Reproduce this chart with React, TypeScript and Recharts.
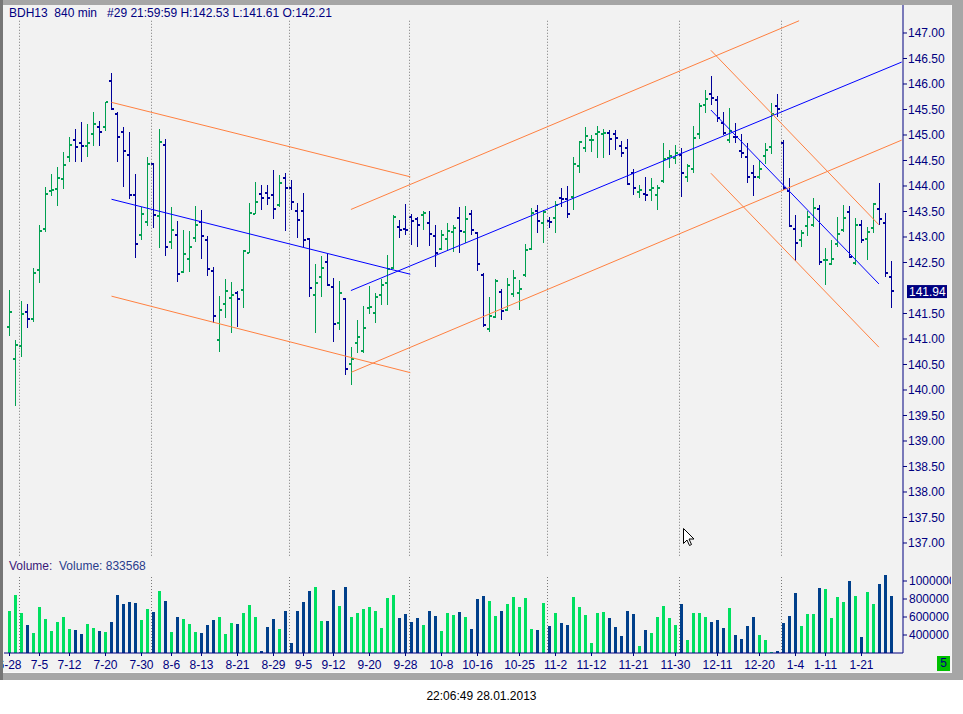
import React from 'react';
import { ComposedChart, Bar, XAxis, YAxis, ReferenceLine } from 'recharts';

const FONT = '"Liberation Sans", Arial, sans-serif';
const NAVY = '#000080';
const UP = '#00a050';
const DOWN = '#000099';
const VOL_UP = '#00e060';
const VOL_DOWN = '#003f8a';
const ORANGE = '#ff8040';
const BLUE = '#0000ff';
const GRID = '#7a7a7a';

// daily bars BDH13, 6-28 .. 1-28
const HIGH = [
  141.96, 140.98, 141.75, 141.69, 142.39, 143.24, 143.99, 144.24, 144.38, 144.67,
  144.97, 145.11, 145.25, 145.22, 145.45, 145.28, 145.65, 146.21, 145.46, 145.16,
  145.06, 144.24, 143.59, 144.56, 144.46, 145.11, 144.92, 143.59, 143.31, 143.14,
  143.12, 143.61, 143.53, 143.02, 142.42, 141.84, 142.18, 142.12, 141.95, 142.75,
  143.66, 144.08, 144.02, 144.02, 144.31, 144.22, 144.25, 144.12, 143.66, 143.86,
  142.99, 142.47, 142.63, 142.67, 142.19, 142.14, 141.80, 140.85, 141.37, 141.65,
  142.04, 141.90, 142.17, 142.65, 143.43, 143.33, 143.65, 143.45, 143.39, 143.50,
  143.50, 143.24, 143.14, 143.27, 143.24, 143.58, 143.61, 143.53, 143.10, 142.29,
  141.83, 142.17, 141.99, 142.19, 142.35, 142.16, 142.86, 143.56, 143.63, 143.53,
  143.40, 143.71, 143.97, 144.00, 144.57, 144.88, 145.15, 145.00, 145.18, 145.11,
  145.10, 145.10, 144.89, 144.92, 144.33, 144.02, 144.17, 144.15, 144.02, 144.84,
  144.71, 144.80, 144.74, 144.44, 145.18, 145.62, 145.88, 146.16, 145.76, 145.46,
  145.52, 145.23, 145.02, 144.84, 144.41, 144.50, 144.84, 145.62, 145.80, 144.90,
  144.15, 143.43, 143.14, 143.50, 143.77, 143.63, 142.78, 142.94, 143.40, 143.63,
  143.61, 143.37, 143.33, 143.20, 143.66, 144.05, 143.48, 142.53,
];

const LOW = [
  141.06, 139.69, 140.65, 141.22, 141.34, 142.10, 143.10, 143.80, 143.61, 143.95,
  144.48, 144.48, 144.48, 144.57, 144.79, 144.79, 145.08, 145.49, 144.48, 143.99,
  143.74, 142.59, 142.94, 143.22, 143.18, 142.79, 142.63, 142.77, 142.12, 142.29,
  142.31, 142.91, 142.57, 142.24, 141.31, 140.75, 141.42, 141.11, 141.24, 141.60,
  142.68, 143.45, 143.52, 143.63, 143.35, 143.59, 143.12, 143.53, 142.99, 142.80,
  141.83, 141.12, 141.83, 142.03, 140.95, 141.18, 140.29, 140.10, 140.72, 140.73,
  141.49, 141.31, 141.66, 141.66, 142.37, 142.99, 143.04, 142.84, 142.81, 143.14,
  142.82, 142.42, 142.75, 142.75, 142.71, 142.68, 142.88, 143.04, 142.34, 141.24,
  141.14, 141.41, 141.37, 141.54, 141.83, 141.57, 142.22, 142.75, 143.07, 142.89,
  143.17, 143.08, 143.59, 143.37, 143.53, 144.26, 144.67, 144.67, 144.54, 144.54,
  144.61, 144.71, 144.57, 144.02, 143.82, 143.76, 143.71, 143.71, 143.53, 144.05,
  144.35, 144.44, 143.78, 144.07, 144.25, 144.92, 145.43, 145.59, 145.26, 145.00,
  144.84, 144.84, 144.55, 144.05, 143.80, 144.13, 144.43, 144.63, 145.36, 143.92,
  143.20, 142.52, 142.80, 143.01, 143.20, 142.45, 142.05, 142.45, 142.81, 143.10,
  142.58, 142.45, 142.88, 142.55, 143.07, 143.24, 142.21, 141.61,
];

const OPEN = [
  141.24, 140.60, 140.86, 141.52, 141.39, 142.35, 143.15, 143.90, 143.94, 144.13,
  144.56, 144.90, 144.84, 144.78, 145.02, 145.15, 145.15, 146.05, 145.41, 145.05,
  144.60, 143.82, 143.03, 143.29, 144.44, 143.41, 144.80, 142.90, 143.03, 142.31,
  142.57, 142.99, 143.29, 142.95, 142.33, 140.99, 141.68, 141.80, 141.90, 141.97,
  142.68, 143.46, 143.84, 143.86, 143.82, 143.63, 144.15, 143.96, 143.50, 143.50,
  142.97, 141.86, 142.21, 142.50, 142.01, 141.32, 141.78, 140.51, 140.92, 140.77,
  141.60, 141.50, 141.87, 142.09, 142.39, 143.19, 143.16, 143.39, 143.35, 143.43,
  143.27, 143.02, 142.76, 142.97, 143.10, 143.37, 143.10, 143.45, 143.08, 142.25,
  141.19, 141.43, 141.92, 141.56, 141.88, 141.90, 142.25, 142.76, 143.51, 143.27,
  143.31, 143.37, 143.76, 143.74, 143.78, 144.40, 144.74, 144.90, 145.02, 145.02,
  145.03, 145.01, 144.79, 144.74, 144.25, 143.88, 143.84, 143.92, 143.82, 144.09,
  144.54, 144.55, 144.60, 144.17, 144.33, 145.02, 145.58, 145.80, 145.68, 145.23,
  144.90, 144.97, 144.69, 144.56, 144.25, 144.17, 144.58, 144.76, 145.56, 144.84,
  143.91, 143.15, 142.94, 143.21, 143.24, 143.54, 142.54, 142.47, 142.86, 143.14,
  143.49, 142.49, 143.23, 142.97, 143.18, 143.55, 143.27, 142.21,
];

const CLOSE = [
  141.53, 140.88, 141.49, 141.39, 142.29, 143.11, 143.84, 143.92, 144.15, 144.41,
  144.80, 144.76, 144.78, 144.84, 145.21, 145.05, 145.64, 145.50, 144.97, 144.68,
  143.83, 142.86, 143.45, 144.44, 143.43, 144.86, 142.80, 143.13, 142.27, 142.66,
  142.80, 143.23, 143.01, 142.37, 141.45, 141.56, 141.95, 141.86, 141.78, 142.72,
  143.48, 143.68, 143.76, 143.76, 143.54, 144.05, 143.97, 143.68, 143.33, 142.94,
  142.00, 142.09, 142.39, 142.05, 141.29, 141.90, 140.41, 140.61, 141.03, 141.21,
  141.63, 141.83, 142.05, 142.37, 143.39, 143.13, 143.13, 143.31, 143.23, 143.47,
  143.05, 142.69, 143.03, 143.11, 143.17, 143.11, 143.35, 143.14, 142.48, 141.27,
  141.46, 142.14, 141.55, 142.06, 142.19, 141.99, 142.74, 143.48, 143.31, 143.49,
  143.30, 143.63, 143.74, 143.46, 144.43, 144.86, 144.98, 144.91, 145.05, 145.03,
  144.92, 144.94, 144.64, 144.03, 143.96, 143.92, 143.82, 143.96, 143.97, 144.52,
  144.58, 144.65, 144.25, 144.39, 144.94, 145.57, 145.70, 145.73, 145.33, 145.03,
  145.07, 144.96, 144.65, 144.17, 144.17, 144.33, 144.71, 145.41, 145.50, 143.97,
  143.22, 142.88, 143.07, 143.39, 143.56, 142.50, 142.55, 142.57, 143.06, 143.37,
  142.61, 143.24, 142.94, 143.10, 143.65, 143.35, 142.29, 141.94,
];

const VOLUME = [
  670000, 848000, 648000, 515000, 426000, 715000, 581000, 448000, 548000, 604000,
  470000, 459000, 415000, 526000, 481000, 448000, 437000, 548000, 848000, 748000,
  770000, 759000, 570000, 693000, 659000, 893000, 782000, 437000, 604000, 581000,
  526000, 437000, 426000, 515000, 570000, 604000, 415000, 537000, 526000, 648000,
  737000, 604000, 226000, 493000, 581000, 470000, 670000, 315000, 670000, 770000,
  893000, 937000, 559000, 559000, 904000, 726000, 937000, 604000, 648000, 693000,
  715000, 670000, 481000, 815000, 848000, 593000, 637000, 548000, 593000, 515000,
  670000, 615000, 448000, 648000, 626000, 659000, 604000, 470000, 804000, 833000,
  778000, 611000, 667000, 744000, 822000, 711000, 811000, 467000, 456000, 756000,
  500000, 644000, 533000, 511000, 822000, 711000, 622000, 311000, 644000, 656000,
  589000, 489000, 389000, 667000, 633000, 278000, 456000, 422000, 600000, 722000,
  589000, 511000, 744000, 344000, 644000, 644000, 600000, 544000, 567000, 478000,
  700000, 400000, 356000, 500000, 600000, 400000, 344000, 211000, 222000, 533000,
  611000, 867000, 500000, 633000, 633000, 922000, 911000, 589000, 822000, 767000,
  1000000, 833000, 378000, 878000, 744000, 967000, 1067000, 833568,
];

const TICK_BARS = [0, 5, 10, 16, 22, 27, 32, 38, 44, 49, 54, 60, 66, 72, 78, 85, 91, 97, 104, 111, 118, 125, 131, 136, 142];
const TICK_LABELS = [
  '6-28', '7-5', '7-12', '7-20', '7-30', '8-6', '8-13', '8-21', '8-29', '9-5', '9-12', '9-20', '9-28',
  '10-8', '10-16', '10-25', '11-2', '11-12', '11-21', '11-30', '12-11', '12-20', '1-4', '1-11', '1-21',
];

// first bar of each month, the dotted separator sits just before it
const MONTH_START = [2, 24, 47, 67, 90, 112, 129];

// 142.00 is covered by the last price box
const PRICE_TICKS = [137, 137.5, 138, 138.5, 139, 139.5, 140, 140.5, 141, 141.5, 142.5, 143, 143.5, 144, 144.5, 145, 145.5, 146, 146.5, 147];
const VOLUME_TICKS = [400000, 600000, 800000, 1000000];

// hand drawn channels: [bar, price] -> [bar, price]
const TRENDS = [
  { x1: 17, y1: 145.64, x2: 66.8, y2: 144.18, color: ORANGE },
  { x1: 17, y1: 141.84, x2: 66.8, y2: 140.34, color: ORANGE },
  { x1: 17, y1: 143.74, x2: 66.8, y2: 142.27, color: BLUE },
  { x1: 56.9, y1: 143.54, x2: 131.6, y2: 147.24, color: ORANGE },
  { x1: 57, y1: 140.35, x2: 148.7, y2: 144.9, color: ORANGE },
  { x1: 56.9, y1: 141.95, x2: 148.7, y2: 146.43, color: BLUE },
  { x1: 116.9, y1: 146.66, x2: 144.9, y2: 143.24, color: ORANGE },
  { x1: 116.9, y1: 144.25, x2: 144.9, y2: 140.84, color: ORANGE },
  { x1: 116.9, y1: 145.49, x2: 144.9, y2: 142.08, color: BLUE },
];

const rows = HIGH.map((high, i) => ({
  i,
  high,
  low: LOW[i],
  open: OPEN[i],
  close: CLOSE[i],
  vol: VOLUME[i],
}));

const LAST = rows[rows.length - 1];

const W = 963;
const H = 714;
const X_DOMAIN = [-11 / 12, 148 + 11 / 12];
const PRICE_DOMAIN = [136.3725, 147.549];
const VOLUME_DOMAIN = [200000, 1066667];
const GRID_TOP = 147.24;
const GRID_BOTTOM = 136.73;

const tickStyle = { fill: NAVY, fontSize: 12, fontFamily: FONT };

const OhlcBar = (props: any) => {
  const { x, y, width, height, payload } = props;
  if (!payload) return null;
  const top = Math.min(y, y + height);
  const bottom = Math.max(y, y + height);
  const span = payload.high - payload.low || 1;
  const toY = (p: number) => top + ((payload.high - p) / span) * (bottom - top);
  const col = Math.floor(x + width / 2 + 0.25);
  const color = payload.close > payload.open ? UP : DOWN;
  const t = Math.round(top);
  return (
    <g fill={color} shapeRendering="crispEdges">
      <rect x={col} y={t} width={1} height={Math.max(1, Math.round(bottom) - t)} />
      <rect x={col - 2} y={Math.round(toY(payload.open)) - 1} width={2} height={2} />
      <rect x={col + 1} y={Math.round(toY(payload.close)) - 1} width={2} height={2} />
    </g>
  );
};

const VolumeBar = (props: any) => {
  const { x, y, width, height, payload } = props;
  if (!payload) return null;
  const col = Math.floor(x + width / 2 + 0.25);
  const top = Math.min(y, y + height);
  return (
    <rect
      x={col - 1}
      y={top}
      width={3}
      height={Math.abs(height)}
      fill={payload.close > payload.open ? VOL_UP : VOL_DOWN}
      shapeRendering="crispEdges"
    />
  );
};

const LastPriceLabel = (props: any) => {
  const vb = props.viewBox;
  if (!vb) return null;
  const x = vb.x + vb.width + 4;
  const y = vb.y;
  return (
    <g>
      <rect x={x} y={y - 6} width={40} height={13} fill={NAVY} />
      <text x={x + 2} y={y + 5} fill="#ffffff" fontSize={12} fontFamily={FONT}>
        {LAST.close.toFixed(2)}
      </text>
    </g>
  );
};

function PriceChart() {
  return (
    <ComposedChart width={W} height={H} data={rows} margin={{ top: 5, right: 0, bottom: 139, left: 4 }}>
      <XAxis type="number" dataKey="i" domain={X_DOMAIN} allowDataOverflow ticks={TICK_BARS} hide />
      <YAxis
        orientation="right"
        width={60}
        domain={PRICE_DOMAIN}
        allowDataOverflow
        ticks={PRICE_TICKS}
        interval={0}
        tickSize={4}
        tickMargin={1}
        axisLine={{ stroke: NAVY }}
        tickLine={{ stroke: NAVY }}
        tick={tickStyle}
        tickFormatter={(v: number) => v.toFixed(2)}
      />
      {MONTH_START.map((m) => (
        <ReferenceLine
          key={`g${m}`}
          segment={[{ x: m - 1 / 3, y: GRID_TOP }, { x: m - 1 / 3, y: GRID_BOTTOM }]}
          stroke={GRID}
          strokeDasharray="1 2"
          ifOverflow="visible"
        />
      ))}
      {TRENDS.map((t, k) => (
        <ReferenceLine
          key={`t${k}`}
          segment={[{ x: t.x1, y: t.y1 }, { x: t.x2, y: t.y2 }]}
          stroke={t.color}
          strokeWidth={1}
          ifOverflow="visible"
        />
      ))}
      <Bar
        dataKey={(d: any) => [d.low, d.high]}
        barSize={5}
        shape={OhlcBar}
        isAnimationActive={false}
      />
      <ReferenceLine y={LAST.close} stroke="none" ifOverflow="visible" label={<LastPriceLabel />} />
    </ComposedChart>
  );
}

function VolumeChart() {
  return (
    <ComposedChart width={W} height={H} data={rows} margin={{ top: 575, right: 0, bottom: 36, left: 4 }}>
      <XAxis
        type="number"
        dataKey="i"
        domain={X_DOMAIN}
        allowDataOverflow
        ticks={TICK_BARS}
        interval={0}
        height={25}
        tickSize={3}
        tickMargin={4}
        axisLine={{ stroke: NAVY }}
        tickLine={{ stroke: NAVY }}
        tick={tickStyle}
        tickFormatter={(v: number) => TICK_LABELS[TICK_BARS.indexOf(v)] ?? ''}
      />
      <YAxis
        orientation="right"
        width={60}
        domain={VOLUME_DOMAIN}
        allowDataOverflow
        ticks={VOLUME_TICKS}
        interval={0}
        tickSize={4}
        tickMargin={2}
        axisLine={{ stroke: NAVY }}
        tickLine={{ stroke: NAVY }}
        tick={tickStyle}
        tickFormatter={(v: number) => String(v)}
      />
      {MONTH_START.map((m) => (
        <ReferenceLine key={`v${m}`} x={m - 1 / 3} stroke={GRID} strokeDasharray="1 2" />
      ))}
      <Bar dataKey="vol" barSize={3} shape={VolumeBar} isAnimationActive={false} />
    </ComposedChart>
  );
}

export default function App() {
  return (
    <div style={{ position: 'absolute', left: 0, top: 0, width: W, height: H, background: '#ffffff', overflow: 'hidden', fontFamily: FONT }}>
      {/* window frame */}
      <div style={{ position: 'absolute', left: 0, top: 0, width: W, height: 680, background: '#a6a6a6' }} />
      <div style={{ position: 'absolute', left: 0, top: 0, width: 3, height: 680, background: '#767676' }} />
      <div style={{ position: 'absolute', left: 3, top: 672, width: 949, height: 1, background: '#f8f8f8' }} />
      <div style={{ position: 'absolute', left: 951, top: 5, width: 1, height: 668, background: '#f8f8f8' }} />

      <div style={{ position: 'absolute', left: 3, top: 5, width: 948, height: 667, background: '#f2f2f2', overflow: 'hidden' }}>
        <div style={{ position: 'absolute', left: -3, top: -5, width: W, height: H }}>
          <div style={{ position: 'absolute', left: 0, top: 0 }}>
            <VolumeChart />
          </div>
          <div style={{ position: 'absolute', left: 0, top: 0 }}>
            <PriceChart />
          </div>
          <div style={{ position: 'absolute', left: 9, top: 6, fontSize: 12, lineHeight: '14px', color: NAVY, whiteSpace: 'pre' }}>
            {`BDH13  840 min   #29 21:59:59 H:${LAST.high.toFixed(2)} L:${LAST.low.toFixed(2)} O:${LAST.open.toFixed(2)}`}
          </div>
          <div style={{ position: 'absolute', left: 9, top: 559, fontSize: 12, lineHeight: '14px', whiteSpace: 'pre' }}>
            <span style={{ color: '#3a1878' }}>Volume:</span>
            <span style={{ color: '#2a3c8c' }}>{`  Volume: ${LAST.vol}`}</span>
          </div>
          <div style={{ position: 'absolute', left: 937, top: 656, width: 13, height: 15, background: '#00c000', color: NAVY, fontSize: 12, lineHeight: '15px', textAlign: 'center' }}>
            5
          </div>
        </div>
      </div>

      {/* mouse pointer left on the chart */}
      <svg style={{ position: 'absolute', left: 683, top: 528 }} width={13} height={20}>
        <path d="M0.5,0.5 L0.5,15.5 L4,12 L6.5,17.5 L8.5,16.5 L6,11 L11,11 Z" fill="#ffffff" stroke="#000000" strokeWidth={1} />
      </svg>

      <div style={{ position: 'absolute', left: 0, top: 689, width: W, textAlign: 'center', fontSize: 12, lineHeight: '14px', color: '#000000' }}>
        22:06:49 28.01.2013
      </div>
    </div>
  );
}
